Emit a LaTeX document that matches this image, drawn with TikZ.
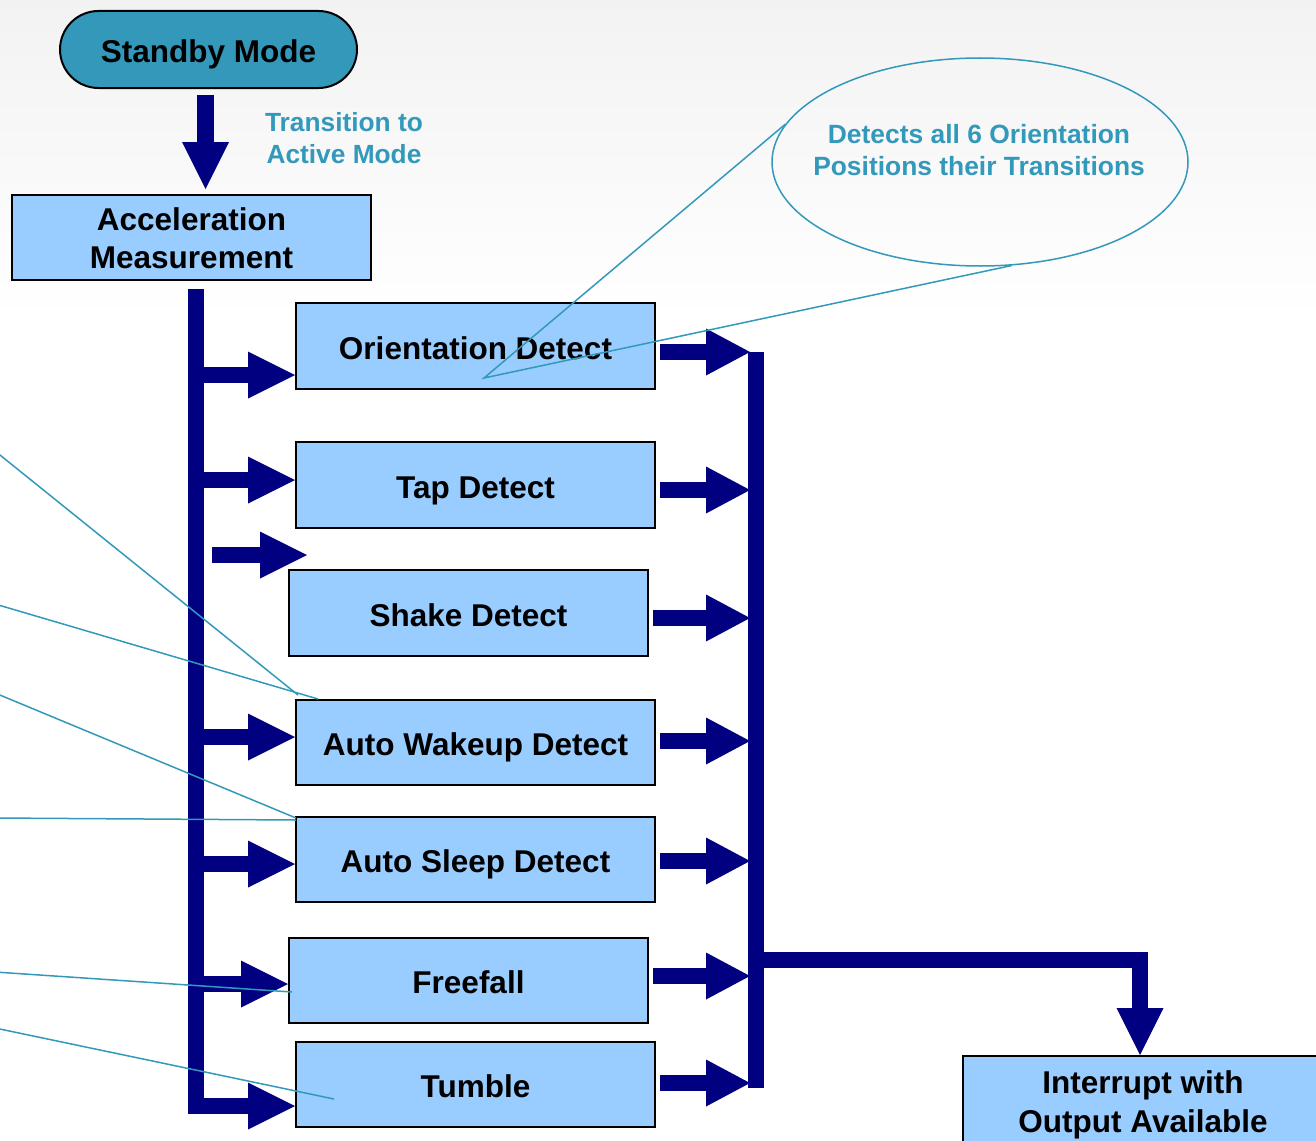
\documentclass[tikz,border=0pt]{standalone}
\usepackage{fontspec}
\setmainfont{Liberation Sans}
\usetikzlibrary{arrows.meta,shapes.geometric}
\definecolor{navybar}{RGB}{0,0,128}
\definecolor{boxblue}{RGB}{153,204,255}
\definecolor{tealc}{RGB}{51,153,187}
\definecolor{standbyc}{RGB}{52,152,186}
\begin{document}
\begin{tikzpicture}[x=1pt,y=-1pt,
  bx/.style={draw=black,line width=2pt,fill=boxblue,minimum width=359pt,minimum height=86pt,inner sep=0pt,font=\fontsize{31.5}{38}\selectfont\bfseries},
  one/.style={text height=26.7pt,text depth=0pt},
  flow/.style={draw=navybar,line width=16pt,line join=miter,-{Triangle[length=47pt,width=47pt,line width=0pt]}},
  rflow/.style={draw=navybar,line width=16pt,-{Triangle[length=44pt,width=47pt,line width=0pt]}},
  note/.style={draw=tealc,line width=1.5pt},
  notetext/.style={text=tealc,font=\fontsize{26.3}{32}\selectfont\bfseries,align=center,inner sep=0pt}]
\useasboundingbox (0,0) rectangle (1316,1140);
\clip (0,0) rectangle (1316,1140);
\fill[white] (0,0) rectangle (1316,1140);
\shade[top color=black!5,bottom color=white] (0,0) rectangle (1316,320);

% nodes
\node[bx,one,minimum height=77pt,minimum width=297pt,rounded corners=38.5pt,fill=standbyc] (standby) at (208.5,49.5) {Standby Mode};
\node[bx,minimum height=85pt,align=center] (accel) at (191.5,237.5) {\rule{0pt}{25pt}Acceleration\\Measurement};
\node[bx,one] (orient) at (475.5,346) {Orientation Detect};
\node[bx,one] (tap) at (475.5,485) {Tap Detect};
\node[bx,one] (shake) at (468.5,613) {Shake Detect};
\node[bx,one,minimum height=85pt] (wake) at (475.5,742.5) {Auto Wakeup Detect};
\node[bx,one,minimum height=85pt] (sleep) at (475.5,859.5) {Auto Sleep Detect};
\node[bx,one,minimum height=85pt] (free) at (468.5,980.5) {Freefall};
\node[bx,one,minimum height=85pt] (tumble) at (475.5,1084.5) {Tumble};
\node[bx,minimum width=360pt,minimum height=90pt,align=center,font=\fontsize{31.5}{39}\selectfont\bfseries] (intr) at (1143,1101) {\rule{0pt}{30pt}Interrupt with\\Output Available};

\node[notetext] (trans) at (344,138.5) {Transition to\\Active Mode};
\node[note,ellipse,minimum width=416pt,minimum height=208pt,inner sep=0pt] (callout) at (980,162) {};
\node[notetext,font=\fontsize{26.4}{32}\selectfont\bfseries] (calltext) at (979,150) {Detects all 6 Orientation\\Positions their Transitions};

% standby -> acceleration
\coordinate (sbtop) at (205.5,95);
\coordinate (sbtip) at (205.5,189);
\draw[flow,line width=17pt] (sbtop) -- (sbtip);

% left bus
\coordinate (busL) at (196,289);
\coordinate (oin) at ([yshift=-29pt]orient.west);
\coordinate (tin) at ([yshift=5pt]tap.west);
\coordinate (win) at ([yshift=5.5pt]wake.west);
\coordinate (sin) at ([yshift=-4.5pt]sleep.west);
\coordinate (fin) at ([yshift=-3.5pt]free.west);
\coordinate (uin) at ([yshift=-21.5pt]tumble.west);
\draw[flow] (busL) -- (busL |- uin) -- (uin);
\foreach \c in {oin,tin,win,sin,fin} \draw[flow] (busL |- \c) -- (\c);
\coordinate (shkS) at (212,555);
\coordinate (shkT) at (307,555);
\draw[flow] (shkS) -- (shkT);

% right bus
\coordinate (busRtop) at (756,352);
\coordinate (busRbot) at (756,1088);
\draw[navybar,line width=16pt] (busRtop) -- (busRbot);
\coordinate (rtip) at (750,0);
\coordinate (oout) at ([yshift=-6pt]orient.east);
\coordinate (tout) at ([yshift=-5pt]tap.east);
\coordinate (hout) at ([yshift=-5pt]shake.east);
\coordinate (wout) at ([yshift=1.5pt]wake.east);
\coordinate (sout) at ([yshift=-1.5pt]sleep.east);
\coordinate (fout) at ([yshift=4.5pt]free.east);
\coordinate (uout) at ([yshift=1.5pt]tumble.east);
\foreach \c in {oout,tout,hout,wout,sout,fout,uout} \draw[rflow] ([xshift=4pt]\c) -- (\c -| rtip);
\coordinate (busRmid) at (756,960);
\coordinate (intrIn) at ([xshift=-3pt]intr.north);
\draw[flow] (busRmid) -- (busRmid -| intrIn) -- (intrIn);

% callout pointer
\coordinate (ptr) at (484,378);
\draw[note] (callout.169) -- (ptr) -- (callout.287);

% pointer lines from the left
\coordinate (a1) at (-5,451); \coordinate (b1) at (298,695);
\coordinate (a2) at (-5,604); \coordinate (b2) at (318,699);
\coordinate (a3) at (-5,693); \coordinate (b3) at (296,818);
\coordinate (a4) at (-5,818); \coordinate (b4) at (296,820);
\coordinate (a5) at (-5,972); \coordinate (b5) at (292,992);
\coordinate (a6) at (-5,1028); \coordinate (b6) at (334,1099);
\foreach \i in {1,...,6} \draw[note] (a\i) -- (b\i);
\end{tikzpicture}
\end{document}
